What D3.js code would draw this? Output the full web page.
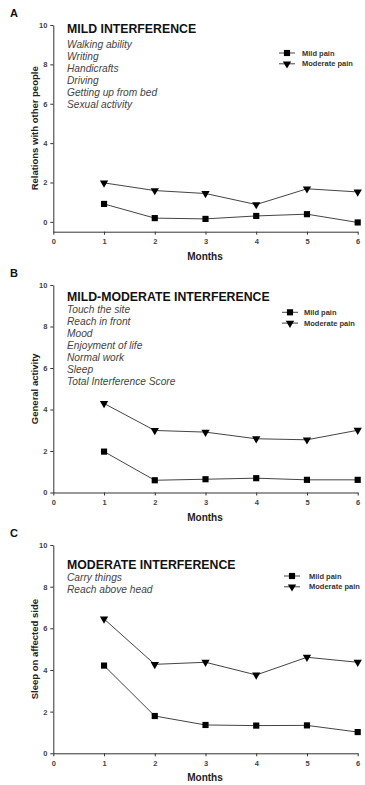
<!DOCTYPE html>
<html>
    <head>
        <meta charset="UTF-8">
        <title>Pain interference</title>
        <style>
            body { margin: 0; background: #fff; }
            svg { display: block; background: #fff; font-family: "Liberation Sans", Arial, sans-serif; }
            .axis path, .axis line { stroke: #333; stroke-width: 1px; }
            .axis text { fill: #444; font-size: 7.5px; font-weight: bold; }
            .line { fill: none; stroke: #444; stroke-width: 1px; }
        </style>
    </head>
    <body>
        <script src="https://d3js.org/d3.v7.min.js"></script>
        <script type="text/javascript">

            // data
            var months = [1, 2, 3, 4, 5, 6];
            var xTicks = [0, 1, 2, 3, 4, 5, 6];
            var yTicks = [0, 2, 4, 6, 8, 10];

            var mildA = [0.91, 0.19, 0.15, 0.30, 0.39, -0.03];
            var moderateA = [1.98, 1.59, 1.44, 0.88, 1.68, 1.52];
            var mildB = [1.97, 0.59, 0.64, 0.69, 0.61, 0.61];
            var moderateB = [4.29, 2.99, 2.91, 2.59, 2.54, 3.00];
            var mildC = [4.21, 1.79, 1.36, 1.33, 1.34, 1.02];
            var moderateC = [6.45, 4.27, 4.37, 3.76, 4.61, 4.37];

            var seriesNames = ["Mild pain", "Moderate pain"];
            var panelLetters = ["A", "B", "C"];
            var yLabels = ["Relations with other people", "General activity", "Sleep on affected side"];
            var titles = ["MILD INTERFERENCE", "MILD-MODERATE INTERFERENCE", "MODERATE INTERFERENCE"];
            var itemsA = ["Walking ability", "Writing", "Handicrafts", "Driving", "Getting up from bed", "Sexual activity"];
            var itemsB = ["Touch the site", "Reach in front", "Mood", "Enjoyment of life", "Normal work", "Sleep", "Total Interference Score"];
            var itemsC = ["Carry things", "Reach above head"];

            // layout of each panel on the page
            var panels = [
                {letter: panelLetters[0], yLabel: yLabels[0], title: titles[0], items: itemsA, mild: mildA, moderate: moderateA,
                 yMin: -0.5, top: 25, bottom: 231.7, titleY: 33, itemY: 48.3, legX: 287, legTextX: 302, legY: 53},
                {letter: panelLetters[1], yLabel: yLabels[1], title: titles[1], items: itemsB, mild: mildB, moderate: moderateB,
                 yMin: 0, top: 285, bottom: 492.5, titleY: 300.7, itemY: 313.3, legX: 290, legTextX: 304, legY: 312.3},
                {letter: panelLetters[2], yLabel: yLabels[2], title: titles[2], items: itemsC, mild: mildC, moderate: moderateC,
                 yMin: 0, top: 545, bottom: 753.3, titleY: 569, itemY: 581, legX: 292, legTextX: 309, legY: 576}
            ];

            var width = 365, height = 785;
            var svg = d3.select("body").append("svg")
                .attr("width", width)
                .attr("height", height);

            var x = d3.scaleLinear().domain([0, 6]).range([53.3, 357.7]);

            var square = d3.symbol().type(d3.symbolSquare).size(38);
            var triangle = d3.symbol().type(d3.symbolTriangle).size(30);

            panels.forEach(function(p) {
                var g = svg.append("g");

                var y = d3.scaleLinear().domain([p.yMin, 10]).range([p.bottom, p.top]);

                g.append("g")
                    .attr("class", "axis")
                    .attr("transform", "translate(0," + p.bottom + ")")
                    .call(d3.axisBottom(x).tickValues(xTicks).tickFormat(d3.format("d"))
                        .tickSizeInner(3).tickSizeOuter(0).tickPadding(4));

                g.append("g")
                    .attr("class", "axis")
                    .attr("transform", "translate(" + x(0) + ",0)")
                    .call(d3.axisLeft(y).tickValues(yTicks).tickFormat(d3.format("d"))
                        .tickSizeInner(3).tickSizeOuter(0).tickPadding(3));

                // panel letter
                g.append("text")
                    .attr("x", 10)
                    .attr("y", p.top - 8)
                    .style("font-size", "11px")
                    .style("font-weight", "bold")
                    .attr("fill", "#111")
                    .text(p.letter);

                // axis titles
                g.append("text")
                    .attr("transform", "translate(34," + ((p.top + p.bottom) / 2) + ") rotate(-90)")
                    .attr("text-anchor", "middle")
                    .attr("dominant-baseline", "central")
                    .style("font-size", "9.5px")
                    .style("font-weight", "bold")
                    .attr("fill", "#222")
                    .text(p.yLabel);

                g.append("text")
                    .attr("x", 205)
                    .attr("y", p.bottom + 28)
                    .attr("text-anchor", "middle")
                    .style("font-size", "10px")
                    .style("font-weight", "bold")
                    .attr("fill", "#222")
                    .text("Months");

                // title and item list
                g.append("text")
                    .attr("x", 67)
                    .attr("y", p.titleY)
                    .style("font-size", "12.3px")
                    .style("font-weight", "bold")
                    .attr("fill", "#111")
                    .text(p.title);

                g.selectAll(".item")
                    .data(p.items)
                    .enter().append("text")
                    .attr("x", 67)
                    .attr("y", function(d, i) { return p.itemY + i * 11.9; })
                    .style("font-size", "10.2px")
                    .style("font-style", "italic")
                    .attr("fill", "#444")
                    .text(function(d) { return d; });

                // series
                var series = [p.mild, p.moderate];
                var valueline = d3.line()
                    .x(function(d, i) { return x(months[i]); })
                    .y(function(d) { return y(d); });

                series.forEach(function(values, s) {
                    g.append("path")
                        .attr("class", "line")
                        .attr("d", valueline(values));

                    g.selectAll(".pt" + s)
                        .data(values)
                        .enter().append("path")
                        .attr("transform", function(d, i) {
                            return "translate(" + x(months[i]) + "," + y(d) + ")" + (s === 1 ? " rotate(180)" : "");
                        })
                        .attr("d", s === 0 ? square : triangle)
                        .attr("fill", "#000");
                });

                // legend
                seriesNames.forEach(function(name, s) {
                    var ly = p.legY + s * 10.8;
                    g.append("line")
                        .attr("x1", p.legX - 8).attr("x2", p.legX + 8)
                        .attr("y1", ly).attr("y2", ly)
                        .attr("stroke", "#444");
                    g.append("path")
                        .attr("transform", "translate(" + p.legX + "," + ly + ")" + (s === 1 ? " rotate(180)" : ""))
                        .attr("d", s === 0 ? square : triangle)
                        .attr("fill", "#000");
                    g.append("text")
                        .attr("x", p.legTextX)
                        .attr("y", ly)
                        .attr("dominant-baseline", "central")
                        .style("font-size", "7.5px")
                        .style("font-weight", "bold")
                        .attr("fill", "#333")
                        .text(name);
                });
            });
        </script>
    </body>
</html>
